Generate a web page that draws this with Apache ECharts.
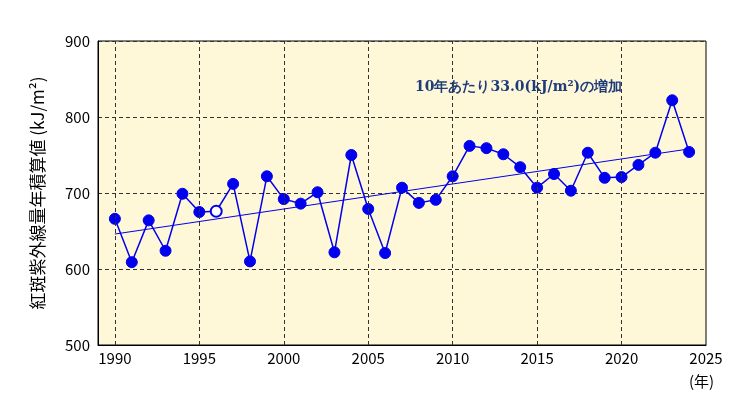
<!DOCTYPE html>
<html><head><meta charset="utf-8">
<script src="https://cdn.jsdelivr.net/npm/echarts@6/dist/echarts.min.js"></script>
<style>html,body{margin:0;background:#fff}#c{width:756px;height:416px}</style>
</head><body><div id="c"></div>
<script>
var years = [];
for (var y = 1990; y <= 2024; y++) years.push(y);
var values = [666,609,664,624,699,675,676,712,610,722,692,686,701,622,750,679,621,707,687,691,
              722,762,759,751,734,707,725,703,753,720,721,737,753,822,754];
var hollowYears = [1996];
var trendStart = [1990, 646], trendEnd = [2024, 758];
var gridYears = [1990,1995,2000,2005,2010,2015,2020];
var font = '"Noto Sans CJK JP", sans-serif';

var chart = echarts.init(document.getElementById('c'));
chart.setOption({
  animation: false,
  grid: {left: 98, right: 50, top: 41, bottom: 71, backgroundColor: '#FFF8D8', show: true, borderColor: '#000', borderWidth: 1},
  xAxis: {
    type: 'value', min: 1989, max: 2025, interval: 1,
    axisLine: {lineStyle: {color: '#000'}},
    axisTick: {show: false},
    splitLine: {show: false},
    axisLabel: {color: '#000', fontSize: 15, fontFamily: font, margin: 6,
      formatter: function (v) { return v % 5 === 0 ? String(v) : ''; }}
  },
  yAxis: {
    type: 'value', min: 500, max: 900, interval: 100,
    name: '紅斑紫外線量年積算値 (kJ/m²)', nameLocation: 'middle', nameRotate: 90, nameGap: 52,
    nameTextStyle: {color: '#000', fontSize: 17, fontFamily: font},
    axisLine: {show: true, lineStyle: {color: '#000'}},
    axisTick: {show: false},
    axisLabel: {color: '#000', fontSize: 15, fontFamily: font},
    splitLine: {lineStyle: {color: '#333', type: [4, 3]}}
  },
  graphic: [
    {type: 'text', left: 415, top: 80, style: {text: '10年あたり33.0(kJ/m²)の増加', fill: '#1F3C7A', font: 'bold 14px "DejaVu Serif", serif'}},
    {type: 'text', left: 689, top: 374, style: {text: '(年)', fill: '#000', font: '15px ' + font}}
  ],
  series: [
    {
      type: 'line', data: years.map(function (y, i) {
        var p = {value: [y, values[i]]};
        if (hollowYears.indexOf(y) >= 0) p.itemStyle = {color: '#fff', borderColor: '#0000EE', borderWidth: 2};
        return p;
      }),
      symbol: 'circle', symbolSize: 11, showAllSymbol: true,
      lineStyle: {color: '#0000EE', width: 1.5},
      itemStyle: {color: '#0000EE', borderColor: '#0000EE'},
      markLine: {
        silent: true, symbol: 'none', label: {show: false},
        lineStyle: {color: '#333', type: [4, 3], width: 1},
        data: gridYears.map(function (g) { return {xAxis: g}; })
      },
      z: 3
    },
    {
      type: 'line', data: [trendStart, trendEnd], symbol: 'none',
      lineStyle: {color: '#0000EE', width: 1}, z: 2
    }
  ]
});
</script></body></html>
